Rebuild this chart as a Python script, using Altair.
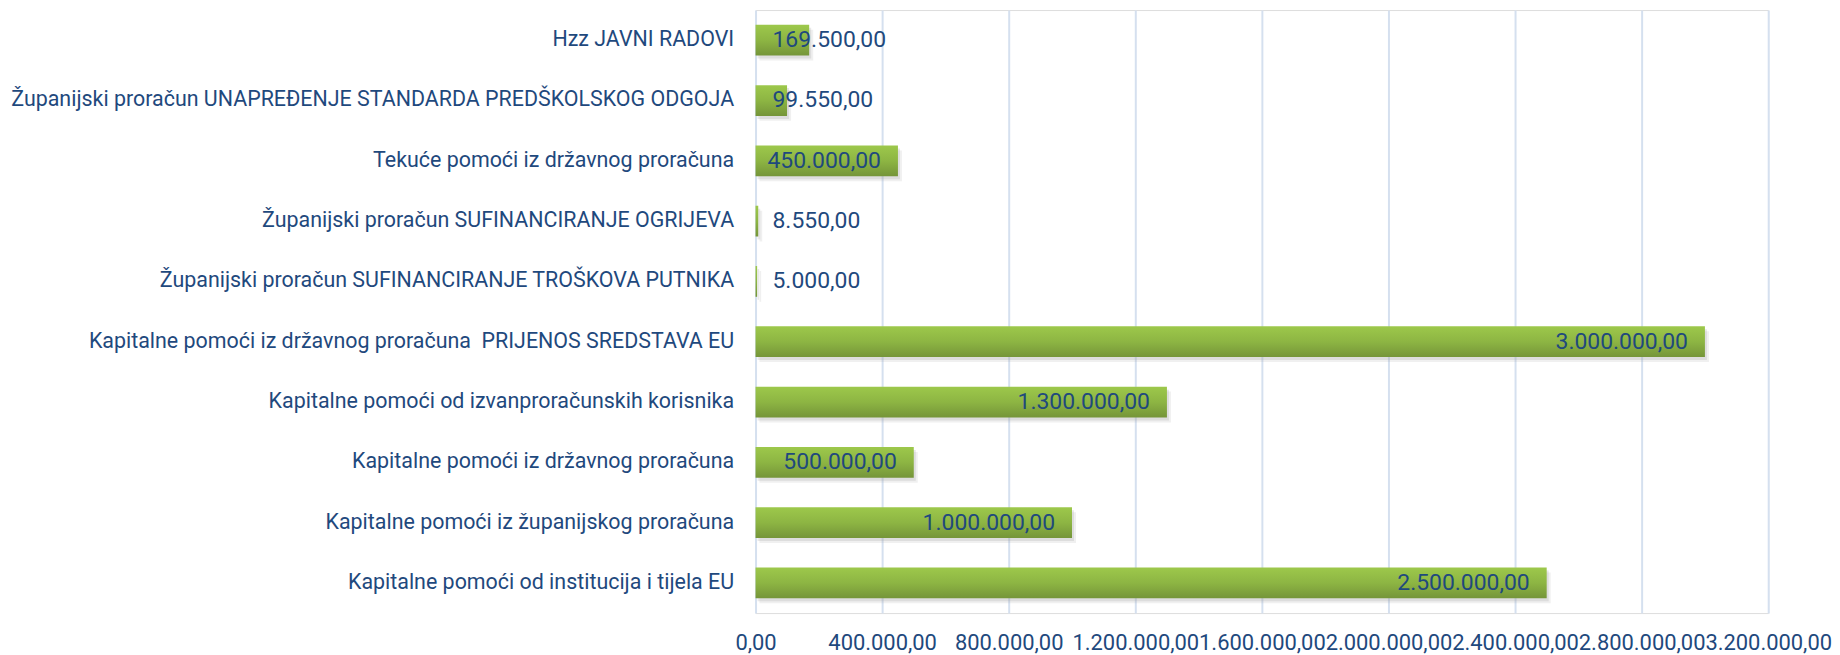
import altair as alt
import pandas as pd

categories = [
    "Hzz JAVNI RADOVI",
    "Županijski proračun UNAPREĐENJE STANDARDA PREDŠKOLSKOG ODGOJA",
    "Tekuće pomoći iz državnog proračuna",
    "Županijski proračun SUFINANCIRANJE OGRIJEVA",
    "Županijski proračun SUFINANCIRANJE TROŠKOVA PUTNIKA",
    "Kapitalne pomoći iz državnog proračuna\u00a0 PRIJENOS SREDSTAVA EU",
    "Kapitalne pomoći od izvanproračunskih korisnika",
    "Kapitalne pomoći iz državnog proračuna\u00a0\u00a0\u00a0",
    "Kapitalne pomoći iz županijskog proračuna",
    "Kapitalne pomoći od institucija i tijela EU",
]
values = [169500, 99550, 450000, 8550, 5000, 3000000, 1300000, 500000, 1000000, 2500000]
x_ticks = [0, 400000, 800000, 1200000, 1600000, 2000000, 2400000, 2800000, 3200000]


def hr_format(v):
    s = f"{v:,.2f}"
    return s.replace(",", "_").replace(".", ",").replace("_", ".")


labels = [hr_format(v) for v in values]

df = pd.DataFrame({"cat": categories, "value": values, "label": labels})

FONT = "Roboto"
FS_Y = 21.5
FS_X = 22
FS_T = 23
TXT = "#1F497D"

x_scale = alt.Scale(domain=[0, 3200000], nice=False, zero=True)
y_scale = alt.Scale(paddingInner=0.49, paddingOuter=0.245)

label_expr = (
    "replace(replace(replace(format(datum.value, ',.2f'), regexp(',', 'g'), '_'),"
    " regexp('[.]', 'g'), ','), regexp('_', 'g'), '.')"
)

x_enc = alt.X(
    "value:Q",
    scale=x_scale,
    axis=alt.Axis(
        values=x_ticks,
        labelExpr=label_expr,
        title=None,
        domain=False,
        ticks=False,
        grid=True,
        gridColor="#D5E0EF",
        gridWidth=2,
        labelOverlap=False,
        labelFont=FONT,
        labelFontSize=FS_X,
        labelColor=TXT,
        labelPadding=20,
        labelFlush=False,
    ),
)
y_enc = alt.Y(
    "cat:N",
    sort=categories,
    scale=y_scale,
    axis=alt.Axis(
        title=None,
        domain=False,
        ticks=False,
        grid=False,
        labelFont=FONT,
        labelFontSize=FS_Y,
        labelColor=TXT,
        labelPadding=22,
        labelLimit=0,
    ),
)

base = alt.Chart(df)

shadow1 = base.mark_bar(color="#9a9a9a", opacity=0.22, xOffset=2, yOffset=3).encode(
    x=alt.X("value:Q", scale=x_scale), y=alt.Y("cat:N", sort=categories, scale=y_scale)
)
shadow2 = base.mark_bar(color="#9a9a9a", opacity=0.15, xOffset=4, yOffset=5).encode(
    x=alt.X("value:Q", scale=x_scale), y=alt.Y("cat:N", sort=categories, scale=y_scale)
)

bars = base.mark_bar(
    color=alt.Gradient(
        gradient="linear",
        stops=[
            alt.GradientStop(color="#9DC84B", offset=0),
            alt.GradientStop(color="#8DB543", offset=0.5),
            alt.GradientStop(color="#759539", offset=1),
        ],
        x1=0, x2=0, y1=0, y2=1,
    )
).encode(x=x_enc, y=y_enc)

text_right = base.transform_filter("datum.value >= 400000").mark_text(
    align="right", baseline="middle", dx=-17, font=FONT, fontSize=FS_T, color=TXT
).encode(
    x=alt.X("value:Q", scale=x_scale),
    y=alt.Y("cat:N", sort=categories, scale=y_scale),
    text="label:N",
)

text_left = base.transform_filter("datum.value < 400000").mark_text(
    align="left", baseline="middle", dx=17, font=FONT, fontSize=FS_T, color=TXT
).encode(
    x=alt.value(0),
    y=alt.Y("cat:N", sort=categories, scale=y_scale),
    text="label:N",
)

chart = (
    alt.layer(shadow2, shadow1, bars, text_right, text_left)
    .properties(
        width=1016,
        height=605,
        autosize=alt.AutoSizeParams(type="none"),
        padding={"left": 750, "top": 1, "right": 64, "bottom": 40},
    )
    .configure_view(stroke=None)
    .configure(font=FONT, background="white")
)

chart.save("out.html", embed_options={"renderer": "svg", "actions": False})
